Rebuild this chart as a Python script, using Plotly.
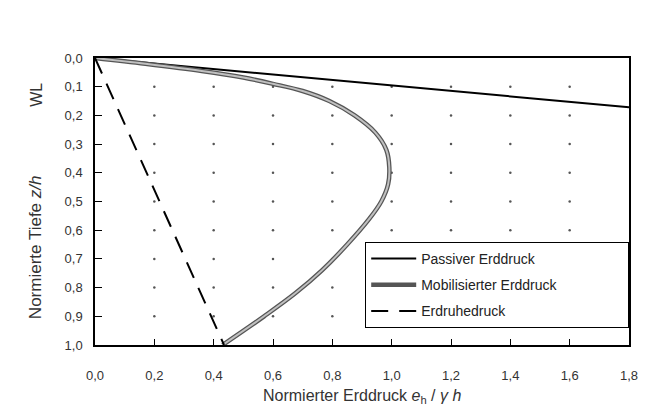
import plotly.graph_objects as go

# --- data ---
passive_x = [0.0, 1.8]
passive_z = [0.0, 0.172]

rest_x = [0.0, 0.435]
rest_z = [0.0, 1.0]

mob_x = [0.0, 0.17, 0.36, 0.50, 0.60, 0.70, 0.79, 0.875, 0.945, 0.982, 0.992,
         0.988, 0.965, 0.925, 0.85, 0.765, 0.675, 0.57, 0.43]
mob_z = [0.0, 0.02, 0.045, 0.068, 0.09, 0.115, 0.15, 0.20, 0.26, 0.32, 0.38,
         0.44, 0.50, 0.56, 0.65, 0.74, 0.82, 0.90, 1.0]

x_ticks = [0.0, 0.2, 0.4, 0.6, 0.8, 1.0, 1.2, 1.4, 1.6, 1.8]
x_labels = ["0,0", "0,2", "0,4", "0,6", "0,8", "1,0", "1,2", "1,4", "1,6", "1,8"]
y_ticks = [0.0, 0.1, 0.2, 0.3, 0.4, 0.5, 0.6, 0.7, 0.8, 0.9, 1.0]
y_labels = ["0,0", "0,1", "0,2", "0,3", "0,4", "0,5", "0,6", "0,7", "0,8", "0,9", "1,0"]

names = ["Passiver Erddruck", "Mobilisierter Erddruck", "Erdruhedruck"]

FONT = "Liberation Sans, Arial, sans-serif"
PAD = "\u00a0" * 17

fig = go.Figure()

# grid dots at tick intersections
gx, gy = [], []
for xv in x_ticks[1:-1]:
    for yv in y_ticks[1:-1]:
        gx.append(xv)
        gy.append(yv)
fig.add_trace(go.Scatter(x=gx, y=gy, mode="markers",
                         marker=dict(size=2.5, color="#555555"),
                         showlegend=False, hoverinfo="skip"))

fig.add_trace(go.Scatter(x=passive_x, y=passive_z, mode="lines", name=names[0] + PAD,
                         line=dict(color="black", width=2), legendgroup="a"))
fig.add_trace(go.Scatter(x=mob_x, y=mob_z, mode="lines", name=names[1] + PAD,
                         line=dict(color="#555555", width=4.5, shape="spline",
                                   smoothing=1.0),
                         legendgroup="b"))
fig.add_trace(go.Scatter(x=mob_x, y=mob_z, mode="lines", showlegend=False,
                         line=dict(color="#c0c0c0", width=2, shape="spline",
                                   smoothing=1.0),
                         hoverinfo="skip"))
fig.add_trace(go.Scatter(x=rest_x, y=rest_z, mode="lines", name=names[2] + PAD,
                         line=dict(color="black", width=2, dash="17px,11px"),
                         legendgroup="c"))

fig.update_layout(
    width=650, height=410,
    margin=dict(l=95, r=16, t=58, b=65),
    paper_bgcolor="white", plot_bgcolor="white",
    font=dict(family=FONT, size=12, color="#222222"),
    legend=dict(x=1.0, xanchor="right", y=0.06, yanchor="bottom",
                bgcolor="white", bordercolor="black", borderwidth=1.2,
                font=dict(size=14, family=FONT, color="#222222"),
                traceorder="grouped", tracegroupgap=5, itemwidth=45),
    xaxis=dict(range=[0, 1.8], tickvals=x_ticks, ticktext=x_labels,
               showgrid=False, zeroline=False, showline=True, linecolor="black",
               linewidth=1.5, mirror=True, ticks="inside", ticklen=6,
               tickcolor="black", ticklabelstandoff=18,
               tickfont=dict(size=13, color="#333333")),
    yaxis=dict(range=[1.0, 0.0], tickvals=y_ticks, ticktext=y_labels,
               showgrid=False, zeroline=False, showline=True, linecolor="black",
               linewidth=1.5, mirror=True, ticks="inside", ticklen=7,
               tickcolor="black", ticklabelstandoff=8,
               tickfont=dict(size=13, color="#333333")),
    showlegend=True,
)

fig.add_annotation(text="Normierter Erddruck <i>e</i><sub>h</sub> / <i>γ h</i>",
                   xref="paper", yref="paper", x=0.5, y=-0.18,
                   xanchor="center", yanchor="middle", showarrow=False,
                   font=dict(size=16, color="#333333"))
fig.add_annotation(text="Normierte Tiefe <i>z/h</i>",
                   xref="paper", yref="paper", x=-0.111, y=0.34,
                   xanchor="center", yanchor="middle", textangle=-90,
                   showarrow=False, font=dict(size=17, color="#333333"))
fig.add_annotation(text="WL",
                   xref="paper", yref="paper", x=-0.111, y=0.871,
                   xanchor="center", yanchor="middle", textangle=-90,
                   showarrow=False, font=dict(size=16, color="#333333"))

fig.write_html("out.html")
